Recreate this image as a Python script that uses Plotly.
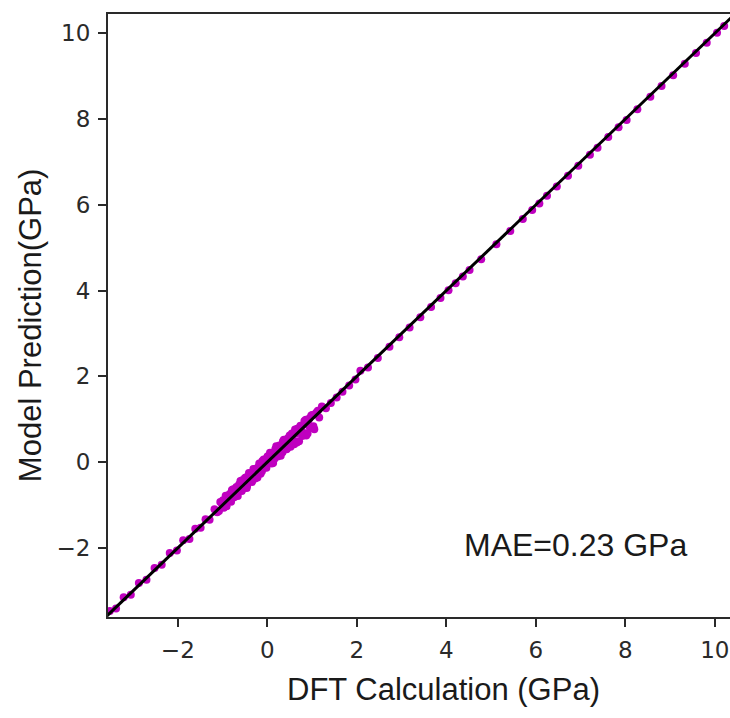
import plotly.graph_objects as go

# Parity data: DFT-calculated values vs. model predictions (GPa)
dft_core_a = [-1.18, -1.12, -1.05, -1.01, -0.97, -0.93, -0.90, -0.87, -0.84, -0.81,
              -0.78, -0.76, -0.73, -0.71, -0.68, -0.66, -0.63, -0.61, -0.59, -0.56,
              -0.54, -0.52, -0.49, -0.47, -0.45, -0.43, -0.41, -0.38, -0.36, -0.34,
              -0.32, -0.30, -0.28, -0.26, -0.24, -0.22, -0.20, -0.18, -0.16, -0.14,
              -0.12, -0.10, -0.08, -0.06, -0.04, -0.02, 0.00, 0.02, 0.04, 0.06,
              0.08, 0.10, 0.12, 0.14, 0.16, 0.18, 0.21, 0.23, 0.25, 0.28,
              0.30, 0.33, 0.35, 0.38, 0.41, 0.44, 0.47, 0.50, 0.53, 0.56,
              0.60, 0.63, 0.67, 0.71, 0.75, 0.79, 0.83, 0.87, 0.91, 0.95,
              1.00, 1.05, 1.10, 1.16, 1.22]
pred_core_a = [-1.10, -1.17, -0.93, -0.98, -1.06, -0.78, -0.84, -0.89, -0.74, -0.92,
               -0.74, -0.63, -0.79, -0.62, -0.67, -0.79, -0.52, -0.56, -0.63, -0.42,
               -0.47, -0.60, -0.47, -0.35, -0.55, -0.37, -0.25, -0.41, -0.27, -0.46,
               -0.28, -0.17, -0.35, -0.16, -0.22, -0.36, -0.12, -0.03, -0.21, -0.03,
               -0.21, -0.07, 0.06, -0.08, 0.03, -0.13, 0.12, 0.07, -0.02, 0.22,
               0.09, -0.03, 0.21, 0.18, 0.08, 0.31, 0.27, 0.13, 0.36, 0.30,
               0.15, 0.41, 0.49, 0.34, 0.51, 0.32, 0.52, 0.62, 0.46, 0.65,
               0.42, 0.66, 0.78, 0.49, 0.82, 0.70, 0.96, 0.62, 0.95, 0.81,
               1.10, 0.77, 1.16, 1.04, 1.30]

dft_core_b = [-1.08, -0.99, -0.91, -0.85, -0.79, -0.74, -0.69, -0.64, -0.60, -0.57,
              -0.53, -0.50, -0.46, -0.42, -0.39, -0.35, -0.31, -0.27, -0.23, -0.19,
              -0.15, -0.11, -0.07, -0.03, 0.01, 0.05, 0.09, 0.13, 0.17, 0.20,
              0.24, 0.27, 0.31, 0.34, 0.37, 0.40, 0.43, 0.46, 0.49, 0.52,
              0.55, 0.58, 0.62, 0.66, 0.70, 0.74, 0.78, 0.82, 0.86, 0.90,
              0.94, 0.98, 1.03, 1.08, 1.13]
pred_core_b = [-1.14, -0.89, -1.03, -0.80, -0.65, -0.82, -0.58, -0.67, -0.44, -0.67,
               -0.46, -0.37, -0.60, -0.38, -0.27, -0.42, -0.16, -0.38, -0.14, -0.17,
               -0.27, 0.03, -0.01, -0.12, 0.14, 0.01, 0.19, -0.02, 0.25, 0.37,
               0.18, 0.39, 0.34, 0.23, 0.52, 0.47, 0.30, 0.56, 0.53, 0.36,
               0.67, 0.50, 0.76, 0.46, 0.79, 0.85, 0.61, 0.88, 0.99, 0.67,
               1.02, 1.08, 0.84, 1.13, 1.20]

dft_tail = [-3.52, -3.38, -3.21, -3.05, -2.87, -2.70, -2.52, -2.36, -2.18, -2.02,
            -1.88, -1.74, -1.61, -1.49, -1.38, -1.29, 1.31, 1.42, 1.55, 1.68,
            1.83, 1.97, 2.08, 2.25, 2.47, 2.73, 2.95, 3.18, 3.42, 3.66,
            3.87, 4.05, 4.21, 4.37, 4.52, 4.78, 5.12, 5.43, 5.71, 5.92,
            6.08, 6.25, 6.47, 6.72, 6.95, 7.21, 7.38, 7.62, 7.85, 8.03,
            8.27, 8.56, 8.81, 9.07, 9.33, 9.58, 9.82, 10.05, 10.21]
pred_tail = [-3.47, -3.41, -3.15, -3.09, -2.82, -2.74, -2.47, -2.39, -2.12, -2.06,
             -1.82, -1.79, -1.55, -1.53, -1.33, -1.34, 1.26, 1.38, 1.51, 1.64,
             1.79, 1.93, 2.13, 2.21, 2.43, 2.69, 2.91, 3.14, 3.38, 3.62,
             3.83, 4.01, 4.17, 4.33, 4.48, 4.73, 5.08, 5.39, 5.67, 5.88,
             6.03, 6.21, 6.43, 6.68, 6.91, 7.17, 7.33, 7.58, 7.81, 7.98,
             8.23, 8.52, 8.77, 9.02, 9.29, 9.54, 9.78, 10.01, 10.17]

x_limits = [-3.56, 10.34]
y_limits = [-3.61, 10.45]
tick_values = [-2, 0, 2, 4, 6, 8, 10]
tick_labels = ["\u22122", "0", "2", "4", "6", "8", "10"]
x_title = "DFT Calculation (GPa)"
y_title = "Model Prediction(GPa)"
mae_text = "MAE=0.23 GPa"

x_all = dft_core_a + dft_core_b + dft_tail
y_all = pred_core_a + pred_core_b + pred_tail
diag = [min(x_limits[0], y_limits[0]), max(x_limits[1], y_limits[1])]

label_font = dict(family="Liberation Sans, Arial, sans-serif", size=31, color="#1a1a1a")

fig = go.Figure()
fig.add_trace(go.Scatter(
    x=x_all, y=y_all, mode="markers",
    marker=dict(color="#bf00bf", size=8, line=dict(width=0)),
    showlegend=False, hoverinfo="skip",
))
# y = x reference line across the whole plotting area
fig.add_trace(go.Scatter(
    x=diag, y=diag, mode="lines",
    line=dict(color="black", width=3),
    showlegend=False, hoverinfo="skip",
))

fig.add_annotation(
    x=6.88, y=-1.93, xref="x", yref="y", text=mae_text, showarrow=False,
    xanchor="center", yanchor="middle",
    font=dict(family="Liberation Sans, Arial, sans-serif", size=32, color="#1a1a1a"),
)
# axis titles
fig.add_annotation(
    x=0.5386, y=0, xref="paper", yref="paper", yshift=-72,
    text=x_title, showarrow=False, xanchor="center", yanchor="middle",
    font=label_font,
)
fig.add_annotation(
    x=0, y=0.484, xref="paper", yref="paper", xshift=-78,
    text=y_title, showarrow=False, textangle=-90,
    xanchor="center", yanchor="middle", font=label_font,
)

tick_common = dict(
    tickvals=tick_values, ticktext=tick_labels,
    showgrid=False, zeroline=False, showline=True,
    linecolor="#2a2a2a", linewidth=2,
    ticks="outside", ticklen=8, tickwidth=1.6, tickcolor="#2a2a2a",
    tickfont=dict(family="DejaVu Sans, sans-serif", size=23, color="#2a2a2a"),
    ticklabelstandoff=3,
    automargin=False,
)

fig.update_layout(
    width=730, height=718,
    margin=dict(l=108, r=0, t=14, b=101),
    paper_bgcolor="white", plot_bgcolor="white",
    xaxis=dict(range=x_limits, mirror=True, **tick_common),
    yaxis=dict(range=y_limits, mirror=False, **tick_common),
)

fig.write_html("out.html")
